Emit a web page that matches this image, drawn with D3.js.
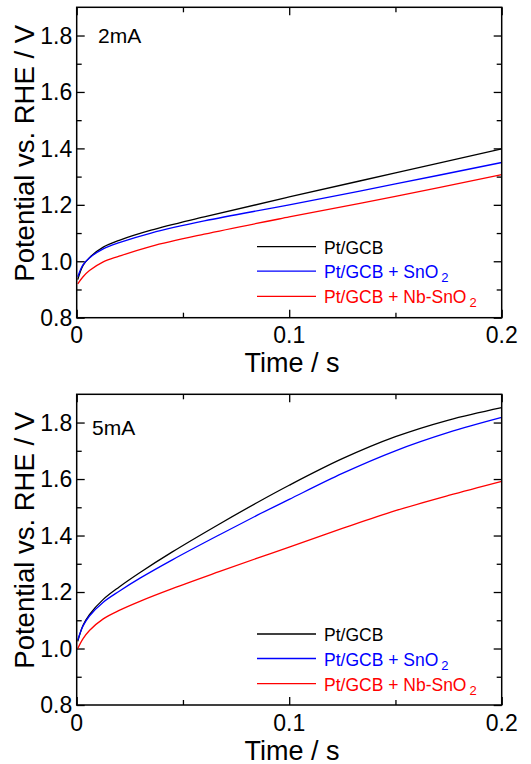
<!DOCTYPE html>
<html>
<head>
<meta charset="utf-8">
<script src="https://cdn.jsdelivr.net/npm/d3@7"></script>
<style>
body { margin: 0; background: #fff; }
svg { display: block; }
text { font-family: "Liberation Sans", Arial, sans-serif; }
</style>
</head>
<body>
<svg width="531" height="764"></svg>
<script>
// series names + colours
var names = ["Pt/GCB", "Pt/GCB + SnO", "Pt/GCB + Nb-SnO"];
var subs = ["", "2", "2"];
var colors = ["#000000", "#0000ff", "#ff0000"];

// 2mA panel
var time2 = [0.0005, 0.003, 0.006, 0.0125, 0.02, 0.035, 0.06, 0.1, 0.15, 0.2];
var ptgcb2 = [0.935, 0.985, 1.013, 1.05, 1.074, 1.11, 1.157, 1.228, 1.313, 1.398];
var sno2_2 = [0.945, 0.988, 1.012, 1.044, 1.066, 1.1, 1.143, 1.2, 1.274, 1.35];
var nbsno2_2 = [0.92, 0.945, 0.967, 0.998, 1.018, 1.053, 1.096, 1.157, 1.23, 1.307];

// 5mA panel
var time5 = [0.0005, 0.003, 0.006, 0.0125, 0.02, 0.03, 0.045, 0.067, 0.085, 0.1, 0.125, 0.15, 0.175, 0.2];
var ptgcb5 = [1.025, 1.082, 1.12, 1.174, 1.218, 1.27, 1.342, 1.44, 1.517, 1.578, 1.672, 1.75, 1.809, 1.853];
var sno2_5 = [1.03, 1.08, 1.115, 1.164, 1.203, 1.25, 1.314, 1.402, 1.472, 1.528, 1.62, 1.7, 1.765, 1.818];
var nbsno2_5 = [1.0, 1.035, 1.064, 1.105, 1.135, 1.168, 1.212, 1.272, 1.32, 1.359, 1.425, 1.488, 1.542, 1.592];

var xTicks = [0, 0.1, 0.2];
var xMinor = [0.05, 0.15];
var yTicks = [0.8, 1.0, 1.2, 1.4, 1.6, 1.8];
var yMinor = [0.9, 1.1, 1.3, 1.5, 1.7];

var svg = d3.select("svg");
var left = 76.7, right = 501.7;

function panel(top, bottom, t, series, label, labelPos) {
    var g = svg.append("g");
    var x = d3.scaleLinear().domain([0, 0.2]).range([left, right]);
    var y = d3.scaleLinear().domain([0.8, 1.9]).range([bottom, top]);

    // ticks inward on all four sides
    var fmtX = function(d) { return d == 0 ? "0" : d3.format(".1f")(d); };
    g.append("g").attr("transform", "translate(0," + bottom + ")")
        .call(d3.axisBottom(x).tickValues(xTicks).tickSize(-8).tickFormat(""));
    g.append("g").attr("transform", "translate(0," + bottom + ")")
        .call(d3.axisBottom(x).tickValues(xMinor).tickSize(-5).tickFormat(""));
    g.append("g").attr("transform", "translate(0," + top + ")")
        .call(d3.axisTop(x).tickValues(xTicks).tickSize(-8).tickFormat(""));
    g.append("g").attr("transform", "translate(0," + top + ")")
        .call(d3.axisTop(x).tickValues(xMinor).tickSize(-5).tickFormat(""));
    g.append("g").attr("transform", "translate(" + left + ",0)")
        .call(d3.axisLeft(y).tickValues(yTicks).tickSize(-8).tickFormat(""));
    g.append("g").attr("transform", "translate(" + left + ",0)")
        .call(d3.axisLeft(y).tickValues(yMinor).tickSize(-5).tickFormat(""));
    g.append("g").attr("transform", "translate(" + right + ",0)")
        .call(d3.axisRight(y).tickValues(yTicks).tickSize(-8).tickFormat(""));
    g.append("g").attr("transform", "translate(" + right + ",0)")
        .call(d3.axisRight(y).tickValues(yMinor).tickSize(-5).tickFormat(""));
    g.selectAll(".domain").remove();
    g.selectAll(".tick line").attr("stroke", "#000").attr("stroke-width", 1.3);

    // tick labels
    g.selectAll(".xl").data(xTicks).enter().append("text")
        .attr("x", function(d) { return x(d); })
        .attr("y", bottom + 25.6)
        .attr("text-anchor", "middle")
        .attr("font-size", 23)
        .text(fmtX);
    g.selectAll(".yl").data(yTicks).enter().append("text")
        .attr("x", left - 4.5)
        .attr("y", function(d) { return y(d) + 8.3; })
        .attr("text-anchor", "end")
        .attr("font-size", 23)
        .text(function(d) { return d3.format(".1f")(d); });

    // axis titles
    g.append("text")
        .attr("x", 292).attr("y", bottom + 54.5)
        .attr("text-anchor", "middle").attr("font-size", 27)
        .text("Time / s");
    g.append("text")
        .attr("transform", "translate(33.5," + (top + 146) + ") rotate(-90)")
        .attr("text-anchor", "middle").attr("font-size", 27.5)
        .text("Potential vs. RHE / V");

    // curves
    var line = d3.line()
        .x(function(d) { return x(d[0]); })
        .y(function(d) { return y(d[1]); })
        .curve(d3.curveCatmullRom.alpha(0.5));
    series.forEach(function(s, i) {
        g.append("path")
            .attr("d", line(t.map(function(tt, k) { return [tt, s[k]]; })))
            .attr("fill", "none")
            .attr("stroke", colors[i])
            .attr("stroke-width", 1.3);
    });

    // frame
    g.append("rect")
        .attr("x", left).attr("y", top)
        .attr("width", right - left).attr("height", bottom - top)
        .attr("fill", "none").attr("stroke", "#000").attr("stroke-width", 1.5);

    // current label
    g.append("text")
        .attr("x", labelPos[0]).attr("y", top + labelPos[1])
        .attr("font-size", 21)
        .text(label);

    // legend
    var rows = [-71, -46.5, -21.3];
    names.forEach(function(n, i) {
        var ly = bottom + rows[i];
        g.append("line")
            .attr("x1", 257).attr("x2", 316)
            .attr("y1", ly).attr("y2", ly)
            .attr("stroke", colors[i]).attr("stroke-width", 1.3);
        var tx = g.append("text")
            .attr("x", 324).attr("y", ly + 7)
            .attr("font-size", 17.5)
            .attr("fill", colors[i])
            .text(n);
        if (subs[i] != "") {
            tx.append("tspan").attr("dx", 3).attr("dy", 4)
                .attr("font-size", 13).text(subs[i]);
        }
    });
}

panel(7.3, 317.7, time2, [ptgcb2, sno2_2, nbsno2_2], "2mA", [98, 35.4]);
panel(394.3, 705, time5, [ptgcb5, sno2_5, nbsno2_5], "5mA", [92, 40.7]);
</script>
</body>
</html>
